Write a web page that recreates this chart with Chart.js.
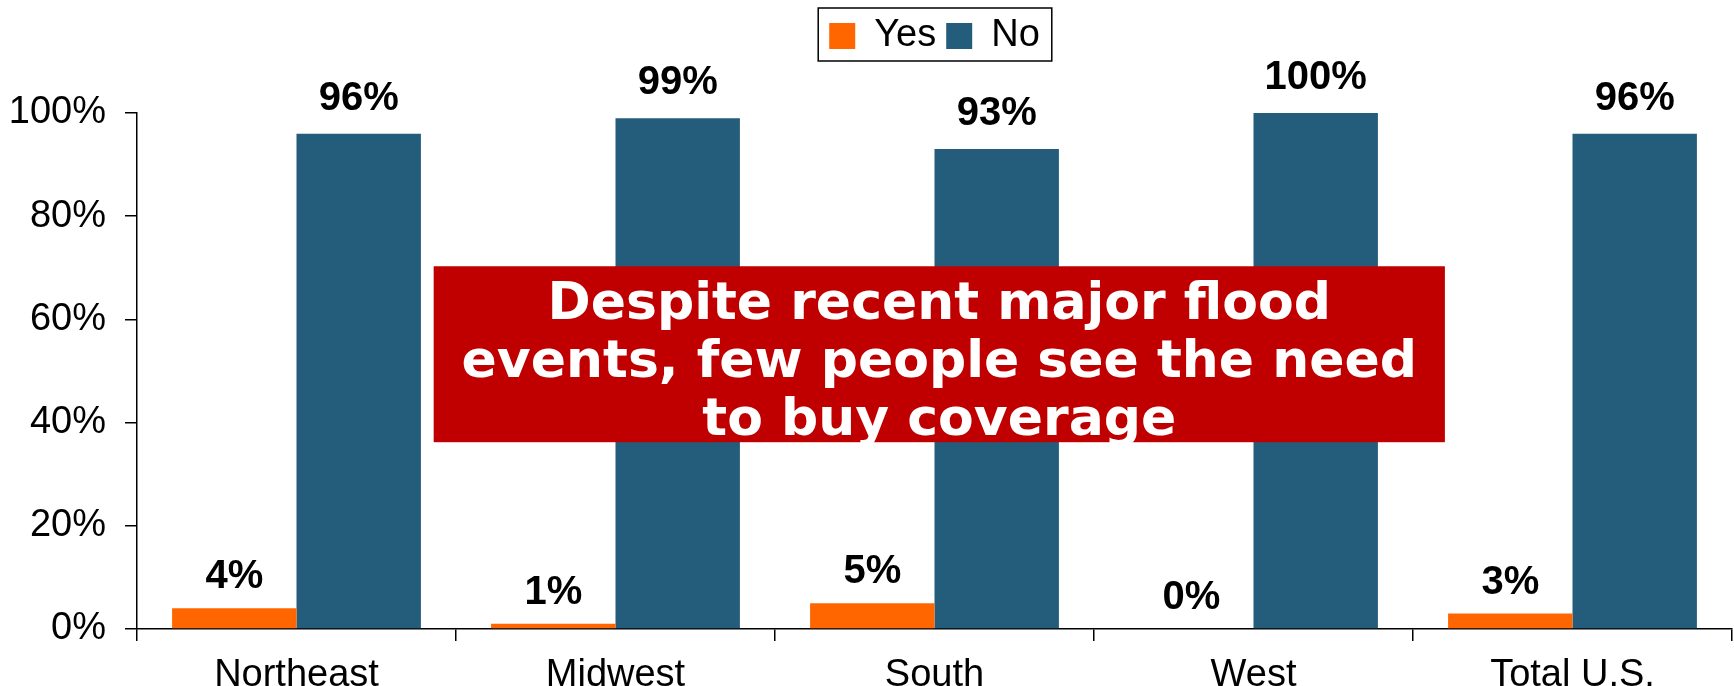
<!DOCTYPE html>
<html>
<head>
<meta charset="utf-8">
<script src="https://cdn.jsdelivr.net/npm/chart.js@4.4.1/dist/chart.umd.min.js"></script>
<style>
  html, body { margin: 0; padding: 0; background: #fff; }
  #wrap { width: 1734px; height: 686px; }
</style>
</head>
<body>
<div id="wrap"><canvas id="floodChart"></canvas></div>
<script>
// survey answers by region (percent)
const regions = ['Northeast', 'Midwest', 'South', 'West', 'Total U.S.'];
const yesValues = [4, 1, 5, 0, 3];
const noValues = [96, 99, 93, 100, 96];
const yTicks = [0, 20, 40, 60, 80, 100];
const calloutLines = ['Despite recent major flood', 'events, few people see the need', 'to buy coverage'];

const ORANGE = '#FF6600';
const BLUE = '#245C7B';
const AXIS_FONT = { family: '"Liberation Sans", Arial, sans-serif', size: 38 };

// value labels above each bar
const barLabels = {
  id: 'barLabels',
  afterDatasetsDraw(chart) {
    const ctx = chart.ctx;
    ctx.save();
    ctx.font = 'bold 40px "Liberation Sans", Arial, sans-serif';
    ctx.fillStyle = '#000';
    ctx.textAlign = 'center';
    ctx.textBaseline = 'alphabetic';
    chart.data.datasets.forEach((ds, i) => {
      const gap = i === 0 ? 20 : 24;
      chart.getDatasetMeta(i).data.forEach((bar, j) => {
        ctx.fillText(ds.data[j] + '%', bar.x, bar.y - gap);
      });
    });
    ctx.restore();
  }
};

// thin frame around the legend items
const legendFrame = {
  id: 'legendFrame',
  afterDraw(chart) {
    const boxes = chart.legend.legendHitBoxes;
    if (!boxes || !boxes.length) return;
    const first = boxes[0];
    const last = boxes[boxes.length - 1];
    const ctx = chart.ctx;
    ctx.save();
    ctx.strokeStyle = '#000';
    ctx.lineWidth = 1.5;
    const left = first.left - 11;
    const right = last.left + last.width + 12;
    const top = first.top - 9;
    const bottom = first.top + first.height + 6;
    ctx.strokeRect(left, top, right - left, bottom - top);
    ctx.restore();
  }
};

// red callout box across the middle of the plot
const callout = {
  id: 'callout',
  afterDraw(chart) {
    const { ctx, chartArea, scales } = chart;
    const w = chartArea.right - chartArea.left;
    const left = chartArea.left + w * 0.186;
    const right = chartArea.left + w * 0.82;
    const top = scales.y.getPixelForValue(70.3);
    const bottom = scales.y.getPixelForValue(36.2);
    ctx.save();
    ctx.fillStyle = '#C00000';
    ctx.fillRect(left, top, right - left, bottom - top);
    ctx.fillStyle = '#fff';
    ctx.font = 'bold 52px "DejaVu Sans", Verdana, sans-serif';
    ctx.textAlign = 'center';
    ctx.textBaseline = 'alphabetic';
    const cx = (left + right) / 2;
    calloutLines.forEach((line, i) => {
      ctx.fillText(line, cx, top + 53 + i * 58);
    });
    ctx.restore();
  }
};

new Chart(document.getElementById('floodChart'), {
  type: 'bar',
  data: {
    labels: regions,
    datasets: [
      { label: 'Yes', data: yesValues, backgroundColor: ORANGE },
      { label: 'No', data: noValues, backgroundColor: BLUE }
    ]
  },
  options: {
    responsive: true,
    maintainAspectRatio: false,
    animation: false,
    events: [],
    categoryPercentage: 0.78,
    barPercentage: 1,
    layout: { padding: { top: 7, left: 0, right: 2, bottom: 0 } },
    scales: {
      x: {
        afterFit: (scale) => { scale.height = 57; },
        grid: { drawOnChartArea: false, drawTicks: true, tickLength: 12, color: '#000', lineWidth: 1.5 },
        border: { color: '#000', width: 1.5 },
        ticks: { color: '#000', font: AXIS_FONT, padding: 12, maxRotation: 0 }
      },
      y: {
        min: 0,
        max: 100,
        afterFit: (scale) => { scale.width = 137; },
        afterBuildTicks: (axis) => { axis.ticks = yTicks.map((v) => ({ value: v })); },
        grid: { drawOnChartArea: false, drawTicks: true, tickLength: 12, color: '#000', lineWidth: 1.5 },
        border: { color: '#000', width: 1.5 },
        ticks: { color: '#000', font: AXIS_FONT, padding: 19, callback: (v) => v + '%' }
      }
    },
    plugins: {
      legend: {
        position: 'top',
        fullSize: false,
        labels: { color: '#000', font: AXIS_FONT, boxWidth: 26, boxHeight: 26, padding: 10 }
      },
      // empty spacer between legend and plot, leaves room for the top value labels
      title: { display: true, text: '', weight: 500, font: { size: 10 }, padding: { top: 0, bottom: 36 } },
      tooltip: { enabled: false }
    }
  },
  plugins: [barLabels, legendFrame, callout]
});
</script>
</body>
</html>
